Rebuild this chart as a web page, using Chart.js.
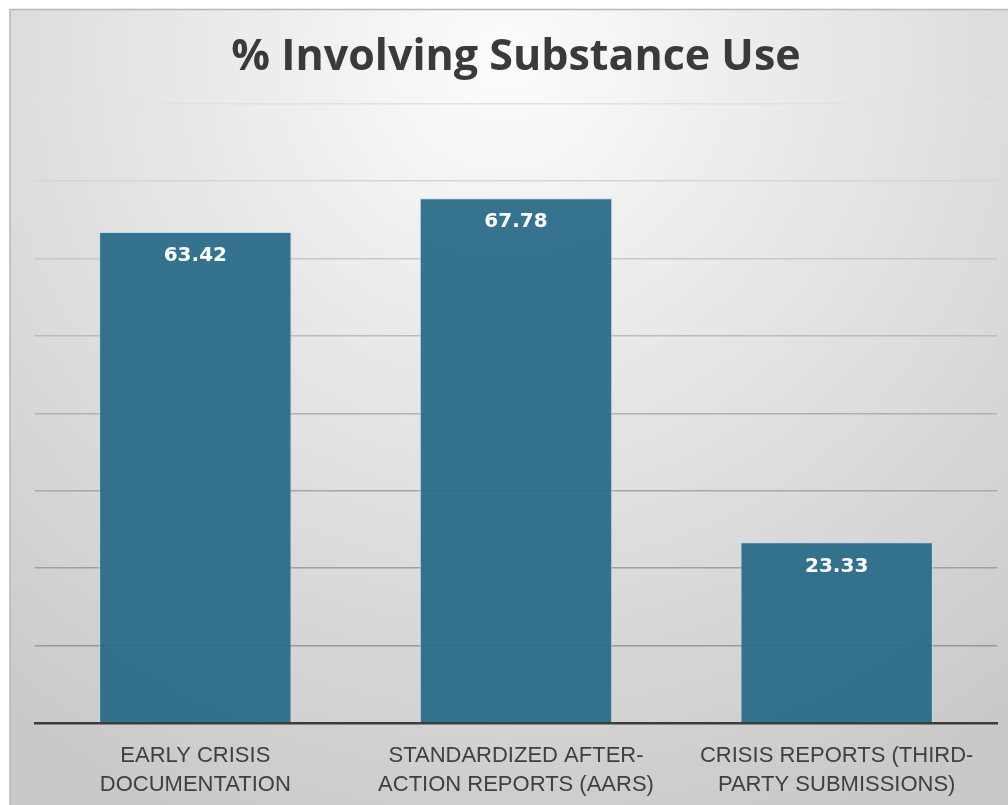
<!DOCTYPE html>
<html>
<head>
<meta charset="utf-8">
<script src="https://cdn.jsdelivr.net/npm/chart.js@4/dist/chart.umd.min.js"></script>
<style>
  html, body { margin: 0; padding: 0; background: #ffffff; }
  #wrap { width: 1008px; height: 805px; }
</style>
</head>
<body>
<div id="wrap"><canvas id="chart" width="1008" height="805"></canvas></div>
<script>
const categories = [
    ['EARLY CRISIS', 'DOCUMENTATION'],
    ['STANDARDIZED AFTER-', 'ACTION REPORTS (AARS)'],
    ['CRISIS REPORTS (THIRD-', 'PARTY SUBMISSIONS)']
];
const substancePct = [63.42, 67.78, 23.33];
const chartTitle = '% Involving Substance Use';

// greys for the horizontal gridlines, lighter at the top like the reference
const gridGreys = ['#a0a0a0', '#989898', '#a0a0a0', '#a8a8a8', '#b0b0b0', '#bcbcbc', '#c8c8c8', '#d6d6d6', '#e2e2e2'];

const panelBackground = {
    id: 'panelBackground',
    beforeDraw(chart) {
        const ctx = chart.ctx;
        const w = chart.width, h = chart.height;
        ctx.save();
        ctx.fillStyle = '#ffffff';
        ctx.fillRect(0, 0, w, h);
        const g = ctx.createRadialGradient(w * 0.5, 60, 20, w * 0.5, 60, 820);
        g.addColorStop(0, '#fbfbfb');
        g.addColorStop(0.45, '#e4e4e4');
        g.addColorStop(1, '#c9c9c9');
        ctx.fillStyle = g;
        ctx.fillRect(10, 9, w - 10, h - 9);
        ctx.strokeStyle = '#b8b8b8';
        ctx.lineWidth = 1.5;
        ctx.beginPath();
        ctx.moveTo(10, h);
        ctx.lineTo(10, 9.5);
        ctx.lineTo(w, 9.5);
        ctx.stroke();
        ctx.restore();
    }
};

const valueLabels = {
    id: 'valueLabels',
    afterDatasetsDraw(chart) {
        const ctx = chart.ctx;
        const meta = chart.getDatasetMeta(0);
        ctx.save();
        ctx.fillStyle = '#ffffff';
        ctx.font = 'bold 20px "DejaVu Sans", sans-serif';
        ctx.textAlign = 'center';
        ctx.textBaseline = 'middle';
        meta.data.forEach((bar, i) => {
            ctx.fillText(substancePct[i].toFixed(2), bar.x, bar.y + 24);
        });
        ctx.restore();
    }
};

new Chart(document.getElementById('chart'), {
    type: 'bar',
    data: {
        labels: categories,
        datasets: [{
            label: chartTitle,
            data: substancePct,
            backgroundColor: 'rgba(40, 106, 136, 0.94)',
            borderColor: 'rgba(190, 220, 235, 0.9)',
            borderWidth: 1,
            barPercentage: 0.6,
            categoryPercentage: 1.0
        }]
    },
    options: {
        responsive: false,
        animation: false,
        layout: { padding: { left: 35, right: 11, top: 0, bottom: 0 } },
        plugins: {
            legend: { display: false },
            tooltip: { enabled: false },
            title: {
                display: true,
                text: chartTitle,
                color: '#3a3a3a',
                font: { family: '"Open Sans", "Noto Sans", sans-serif', size: 43, weight: 'bold' },
                padding: { top: 32, bottom: 20 }
            }
        },
        scales: {
            x: {
                grid: { display: false },
                border: { display: true, color: '#3c3c3c', width: 2.5 },
                ticks: {
                    color: '#404040',
                    font: { family: '"Liberation Sans", Arial, sans-serif', size: 22, lineHeight: 1.32 },
                    padding: 10,
                    maxRotation: 0,
                    autoSkip: false
                },
                afterFit(scale) { scale.height = 82; }
            },
            y: {
                min: 0,
                max: 80,
                ticks: { display: false, stepSize: 10 },
                border: { display: false },
                grid: {
                    color: (c) => gridGreys[c.index] || '#aaaaaa',
                    lineWidth: 1.5,
                    drawTicks: false
                },
                afterFit(scale) { scale.width = 0; }
            }
        }
    },
    plugins: [panelBackground, valueLabels]
});
</script>
</body>
</html>
